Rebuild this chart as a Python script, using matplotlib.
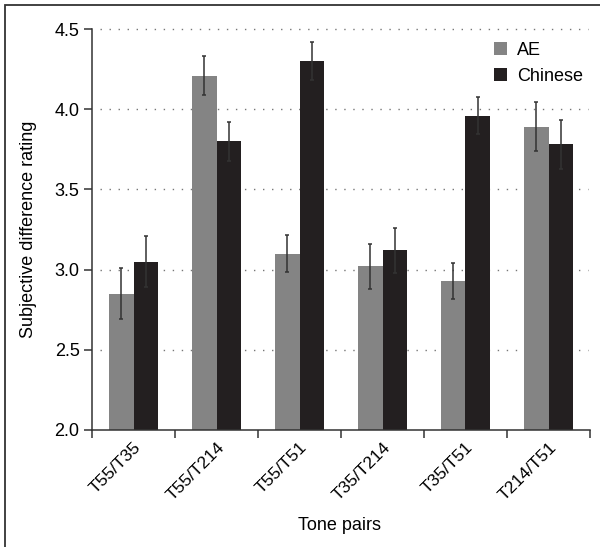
import numpy as np
import matplotlib
matplotlib.use("Agg")
from matplotlib import pyplot as plt
from matplotlib.patches import Rectangle

plt.rcParams['font.family'] = ['Liberation Sans', 'DejaVu Sans']

# data
pairs = ["T55/T35", "T55/T214", "T55/T51", "T35/T214", "T35/T51", "T214/T51"]
ae_mean = [2.85, 4.21, 3.10, 3.02, 2.93, 3.89]
ae_err = [0.16, 0.12, 0.115, 0.14, 0.113, 0.153]
cn_mean = [3.05, 3.80, 4.30, 3.12, 3.96, 3.78]
cn_err = [0.16, 0.12, 0.12, 0.14, 0.117, 0.15]

gray = "#848484"
black = "#231f20"
ink = "#333333"

fig = plt.figure(figsize=(6, 5.47), dpi=100)
ax = fig.add_axes([92/600, 1 - 430/547, (590-92)/600, (430-29)/547])

x = np.arange(len(pairs))
w = 0.29
ax.bar(x - w/2, ae_mean, w, color=gray, label="AE", zorder=2)
ax.bar(x + w/2, cn_mean, w, color=black, label="Chinese", zorder=2)
ax.errorbar(x - w/2, ae_mean, yerr=ae_err, fmt="none", ecolor=ink,
            elinewidth=1.1, capsize=1.6, capthick=1.1, zorder=3)
ax.errorbar(x + w/2, cn_mean, yerr=cn_err, fmt="none", ecolor=ink,
            elinewidth=1.1, capsize=1.6, capthick=1.1, zorder=3)

ax.set_ylim(2.0, 4.5)
ax.set_xlim(-0.5, len(pairs) - 0.5)
ax.set_yticks([2.0, 2.5, 3.0, 3.5, 4.0, 4.5])
ax.set_yticklabels(["2.0", "2.5", "3.0", "3.5", "4.0", "4.5"], fontsize=13)
for yv in [2.5, 3.0, 3.5, 4.0, 4.5]:
    ax.plot([-0.4, len(pairs) - 0.52], [yv, yv], color="#777777",
            linestyle=(0, (1, 5.5)), lw=1.0, zorder=1, clip_on=False)

# group boundaries as ticks, labels at group centres
ax.set_xticks(np.arange(-0.5, len(pairs)), labels=[""] * (len(pairs) + 1))
ax.set_xticks(x, labels=pairs, minor=True)
ax.tick_params(axis="x", which="major", length=6, width=1.1, color=ink)
ax.tick_params(axis="x", which="minor", length=0, pad=7, labelsize=12.5)
ax.tick_params(axis="y", length=6, width=1.1, color=ink, pad=3)
for lab in ax.get_xticklabels(minor=True):
    lab.set_rotation(45)
    lab.set_ha("right")
    lab.set_rotation_mode("anchor")

for side in ["top", "right"]:
    ax.spines[side].set_visible(False)
for side in ["left", "bottom"]:
    ax.spines[side].set_color(ink)
    ax.spines[side].set_linewidth(1.1)

ax.set_ylabel("Subjective difference rating", fontsize=13)
ax.yaxis.set_label_coords(-(92 - 37) / 498, 0.5)
fig.text(340/600, 1 - 525/547, "Tone pairs", ha="center", va="center", fontsize=13)

ax.legend(loc="upper right", bbox_to_anchor=(1.018, 1.008), frameon=False,
          fontsize=13, handlelength=0.7, handleheight=0.7, handletextpad=0.55,
          labelspacing=0.5)

# frame around the figure (right/bottom edges run off the image)
fig.patches.append(Rectangle((5/600, -0.1), 1.2, 1 - 4.5/547 + 0.1,
                             transform=fig.transFigure, fill=False,
                             edgecolor=ink, lw=1.3))

fig.savefig("out.png", dpi=100)
